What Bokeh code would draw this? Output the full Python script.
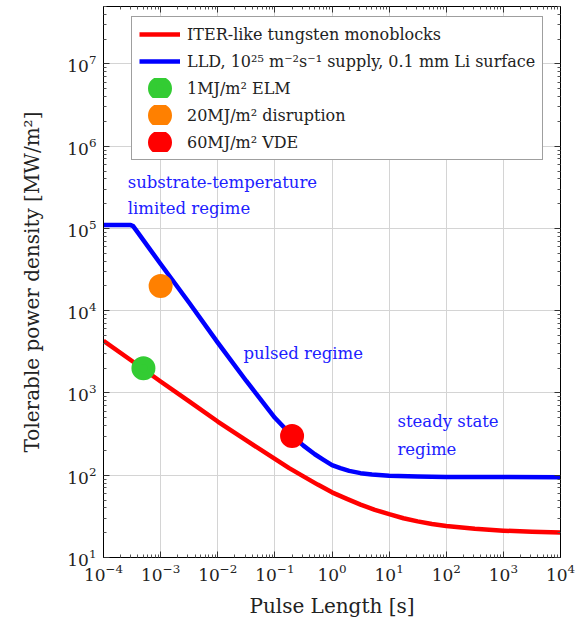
from bokeh.plotting import figure
from bokeh.models import (LogAxis, FixedTicker, Legend, LegendItem, Label,
                          Range1d, ColumnDataSource, CustomJSTickFormatter)
from bokeh.embed import file_html
from bokeh.resources import INLINE

# ---------------- data ----------------
red_t = [1e-4, 3.16e-4, 1e-3, 3.16e-3, 1e-2, 3.16e-2, 0.1, 0.178, 0.316, 0.562,
         1, 1.78, 3.16, 5.62, 10, 17.8, 31.6, 56.2, 100, 316, 1000, 3162, 1e4]
red_q = [4300, 2450, 1380, 790, 450, 265, 158, 122, 97, 77,
         62, 52, 44, 38, 33.6, 30, 27.5, 25.6, 24.2, 22.3, 21.2, 20.5, 20.1]

blue_t = [1e-4, 3e-4, 3.3e-4, 4e-4, 1e-3, 3.16e-3, 1e-2, 3.16e-2, 0.05, 0.1,
          0.14, 0.2, 0.316, 0.5, 0.7, 1, 1.4, 2, 3.16, 5, 10, 31.6, 100,
          1000, 1e4]
blue_q = [1.1e5, 1.1e5, 1.07e5, 8.9e4, 3.7e4, 1.25e4, 4100, 1400, 930, 500,
          392, 303, 229, 180, 155, 133, 122, 113, 106, 102, 98.5, 96.5, 95.5,
          95, 94.5]

event_t = [5e-4, 1e-3, 0.2]
event_q = [2000, 2e4, 300]
event_colors = ["#33cc33", "#ff8000", "#ff0000"]
event_labels = ["1MJ/m\u00b2 ELM", "20MJ/m\u00b2 disruption", "60MJ/m\u00b2 VDE"]

line_labels = ["ITER-like tungsten monoblocks",
               "LLD, 10\u00b2\u2075 m\u207b\u00b2s\u207b\u00b9 supply, 0.1 mm Li surface"]

x_major = [1e-4, 1e-3, 1e-2, 1e-1, 1e0, 1e1, 1e2, 1e3, 1e4]
y_major = [1e1, 1e2, 1e3, 1e4, 1e5, 1e6, 1e7]

FONT = "DejaVu Serif"

x_minor = [k * 10.0 ** e for e in range(-4, 4) for k in range(2, 10)]
y_minor = [k * 10.0 ** e for e in range(1, 8) for k in range(2, 10) if k * 10.0 ** e <= 5e7]

p = figure(width=579, height=623, x_axis_type="log", y_axis_type="log",
           x_range=Range1d(1e-4, 1e4), y_range=Range1d(10, 5e7),
           output_backend="svg", toolbar_location=None,
           min_border_left=103, min_border_right=19, min_border_top=6,
           min_border_bottom=66)
p.outline_line_color = "black"
p.outline_line_width = 1

bottom_axis = p.below[0]
left_axis = p.left[0]

xt = FixedTicker(ticks=x_major, minor_ticks=x_minor)
yt = FixedTicker(ticks=y_major, minor_ticks=y_minor)
bottom_axis.ticker = xt
left_axis.ticker = yt

top_axis = LogAxis(ticker=FixedTicker(ticks=x_major, minor_ticks=x_minor),
                   formatter=CustomJSTickFormatter(code="return ''"))
right_axis = LogAxis(ticker=FixedTicker(ticks=y_major, minor_ticks=y_minor),
                     formatter=CustomJSTickFormatter(code="return ''"))
p.add_layout(top_axis, "above")
p.add_layout(right_axis, "right")

for ax in [bottom_axis, left_axis, top_axis, right_axis]:
    ax.axis_line_color = "black"
    ax.major_tick_in = 6
    ax.major_tick_out = 0
    ax.minor_tick_in = 3
    ax.minor_tick_out = 0
    ax.major_tick_line_color = "#333333"
    ax.minor_tick_line_color = "#555555"
    ax.major_label_text_font = FONT
    ax.major_label_text_font_size = "17px"
    ax.major_label_text_color = "#222222"
    ax.axis_label_text_font = FONT
    ax.axis_label_text_font_style = "normal"
    ax.axis_label_text_font_size = "20px"
    ax.axis_label_text_color = "#222222"

for ax in [top_axis, right_axis]:
    ax.major_label_text_font_size = "1px"
    ax.major_label_standoff = 0

bottom_axis.axis_label = "Pulse Length [s]"
left_axis.axis_label = "Tolerable power density [MW/m\u00b2]"
bottom_axis.major_label_standoff = 6
left_axis.major_label_standoff = 7
bottom_axis.axis_label_standoff = 10
left_axis.axis_label_standoff = 20

p.xgrid.grid_line_color = "#d4d4d4"
p.ygrid.grid_line_color = "#d4d4d4"
p.xgrid.ticker = xt
p.ygrid.ticker = yt

r_red = p.line(red_t, red_q, line_color="#ff0000", line_width=4.5,
               line_join="round")
r_blue = p.line(blue_t, blue_q, line_color="#0000ff", line_width=4.5,
                line_join="round")

src = ColumnDataSource(dict(t=event_t, q=event_q, c=event_colors))
r_ev = p.ellipse("t", "q", source=src, width=16, height=16,
                 width_units="screen", height_units="screen",
                 line_width=8, line_join="round", fill_color="c", line_color="c")

items = [LegendItem(label=line_labels[0], renderers=[r_red]),
         LegendItem(label=line_labels[1], renderers=[r_blue])]
for i, lab in enumerate(event_labels):
    items.append(LegendItem(label=lab, renderers=[r_ev], index=i))

legend = Legend(items=items, location=(28, 397), glyph_width=41, glyph_height=20,
                label_height=20, spacing=7, padding=7, margin=0, label_standoff=7,
                label_text_font=FONT, label_text_font_size="16px",
                label_text_color="#222222",
                border_line_color="#404040", border_line_width=1,
                background_fill_color="white", background_fill_alpha=1)
p.add_layout(legend)

notes = [("substrate-temperature", 2.65e-4, 3.59e5),
         ("limited regime", 2.65e-4, 1.73e5),
         ("pulsed regime", 2.83e-2, 3000),
         ("steady state", 14.0, 447),
         ("regime", 14.0, 205)]
for txt, x, y in notes:
    p.add_layout(Label(x=x, y=y, text=txt, text_font=FONT, text_font_size="16.5px",
                       text_color="#2020ff", text_baseline="middle",
                       text_align="left"))

open("out.html", "w").write(file_html(p, INLINE))
